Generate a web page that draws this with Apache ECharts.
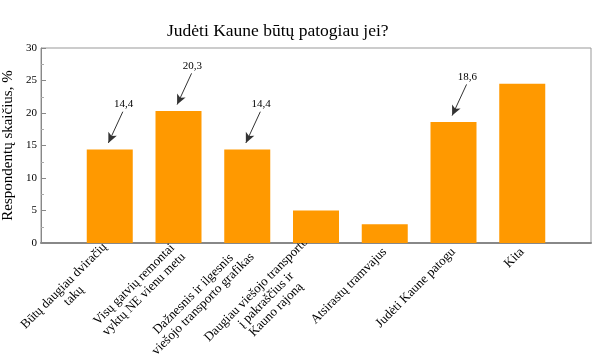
<!DOCTYPE html>
<html>
<head>
<meta charset="utf-8">
<script src="https://cdn.jsdelivr.net/npm/echarts@6/dist/echarts.min.js"></script>
<style>html,body{margin:0;padding:0;background:#fff}#c{width:596px;height:357px}</style>
</head>
<body>
<div id="c"></div>
<script>
var categories = [
  "Būtų daugiau dviračių\ntakų",
  "Visų gatvių remontai\nvyktų NE vienu metu",
  "Dažnesnis ir ilgesnis\nviešojo transporto grafikas",
  "Daugiau viešojo transporto\nį pakraščius ir\nKauno rajoną",
  "Atsirastų tramvajus",
  "Judėti Kaune patogu",
  "Kita"
];
var values = [14.4, 20.3, 14.4, 5.0, 2.9, 18.6, 24.5];
var annotated = [0, 1, 2, 5];
var yTicks = [0, 5, 10, 15, 20, 25, 30];

var FONT = '"Liberation Serif", "Times New Roman", serif';
var axisCats = [''].concat(categories).concat(['']);
var barData = ['-'].concat(values).concat(['-']);

var markData = annotated.map(function (i) {
  var v = values[i];
  return [
    { coord: [i + 1 + 0.19, v + 5.8], label: { formatter: String(v.toFixed(1)).replace('.', ',') } },
    { coord: [i + 1 - 0.02, v + 1.0] }
  ];
});

var chart = echarts.init(document.getElementById('c'), null, { renderer: 'canvas' });
chart.setOption({
  animation: false,
  backgroundColor: '#fff',
  title: {
    text: 'Judėti Kaune būtų patogiau jei?',
    left: 162, top: 17,
    textStyle: { fontFamily: FONT, fontSize: 17.5, fontWeight: 'normal', color: '#000' }
  },
  grid: { left: 41, right: 5, top: 48, bottom: 114, show: true, borderColor: '#999', borderWidth: 1,
          containLabel: false, outerBoundsMode: 'none' },
  xAxis: [{
    type: 'category',
    data: axisCats,
    boundaryGap: false,
    axisLine: { lineStyle: { color: '#888', width: 2 } },
    axisTick: { show: false },
    axisLabel: {
      interval: 0, rotate: 45, margin: 7,
      fontFamily: FONT, fontSize: 13, color: '#000', lineHeight: 14,
      formatter: function (s) {
        if (!s) return '';
        return s.split('\n').map(function (l) { return '{c|' + l + '}'; }).join('\n');
      },
      rich: { c: { align: 'center', fontFamily: FONT, fontSize: 13, color: '#000', lineHeight: 14 } }
    }
  }, {
    type: 'value', min: 0, max: 8, show: false
  }],
  yAxis: {
    type: 'value', min: yTicks[0], max: yTicks[yTicks.length - 1], interval: 5,
    name: 'Respondentų skaičius, %',
    nameLocation: 'middle', nameGap: 21, nameRotate: 90,
    nameTextStyle: { fontFamily: FONT, fontSize: 15, color: '#000' },
    axisLine: { show: true, lineStyle: { color: '#888', width: 1 } },
    axisTick: { show: true, inside: true, length: 5, lineStyle: { color: '#888' } },
    minorTick: { show: true, splitNumber: 2, length: 3, lineStyle: { color: '#aaa' } },
    splitLine: { show: false },
    axisLabel: { fontFamily: FONT, fontSize: 11, color: '#000', margin: 4 }
  },
  series: [{
    type: 'bar',
    data: barData,
    barWidth: 46,
    itemStyle: { color: '#ff9900' }
  }, {
    type: 'line',
    xAxisIndex: 1,
    data: [],
    silent: true,
    markLine: {
      silent: true,
      symbol: ['none', 'arrow'],
      symbolSize: [7, 10],
      lineStyle: { color: '#333', width: 1, type: 'solid' },
      label: { show: true, position: 'start', distance: 2, fontFamily: FONT, fontSize: 11, color: '#000' },
      data: markData
    }
  }]
});
</script>
</body>
</html>
